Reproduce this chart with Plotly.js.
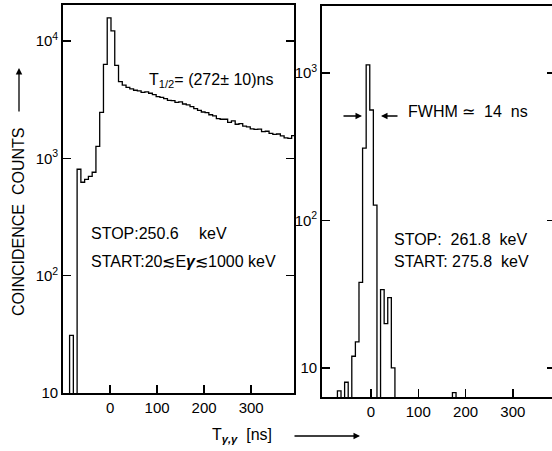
<!DOCTYPE html>
<html>
<head>
<meta charset="utf-8">
<script src="https://cdn.plot.ly/plotly-3.0.1.min.js"></script>
<style>html,body{margin:0;padding:0;background:#fff;}#chart{width:552px;height:451px;}</style>
</head>
<body>
<div id="chart"></div>
<script>
// ---- Left panel: STOP 250.6 keV, time spectrum (bin edges in ns, counts per bin)
const leftEdges = [-86,-78,-70,-62,-54,-46,-38,-30,-22,-14,-6,2,10,18,26,34,42,50,58,66,74,82,90,98,106,114,122,130,138,146,154,162,170,178,186,194,202,210,218,226,234,242,250,258,266,274,282,290,298,306,314,322,330,338,346,354,362,370,378,386,394];
const leftCounts = [31,0,806,625,660,700,760,1265,2460,6300,15700,12200,6200,4500,4200,4020,3900,3800,3750,3650,3680,3580,3480,3350,3300,3220,3120,3100,3000,3020,2900,2850,2750,2650,2560,2480,2450,2350,2300,2180,2150,2150,2020,2080,1950,1970,1880,1850,1780,1760,1770,1690,1700,1630,1600,1610,1550,1490,1480,1560];

// ---- Right panel: STOP 261.8 keV / START 275.8 keV (prompt curve)
const rightEdges = [-71,-63.4,-55.8,-48.2,-40.6,-33,-25.4,-17.8,-10.2,-2.6,5,12.6,20.2,27.8,35.4,43,50.6,172.2,179.8];
const rightCounts = [7,0,8,0,12,15,38,309,1133,561,127,0,34,20,30,10,0,6.8];

const xTickVals = [0,100,200,300];
const xTickText = ['0','100','200','300'];
const leftYTickVals = [10,100,1000,10000];
const leftYTickText = ['10','10<sup>2</sup>','10<sup>3</sup>','10<sup>4</sup>'];
const rightYTickVals = [10,100,1000];
const rightYTickText = ['10','10<sup>2</sup>','10<sup>3</sup>'];

const FLOOR = 0.01; // empty bins drawn below the axis floor

function stepXY(edges, counts){
  const xs=[edges[0]], ys=[FLOOR];
  for(let i=0;i<counts.length;i++){ xs.push(edges[i]); ys.push(counts[i]>0?counts[i]:FLOOR); }
  xs.push(edges[edges.length-1]); ys.push(counts[counts.length-1]>0?counts[counts.length-1]:FLOOR);
  xs.push(edges[edges.length-1]); ys.push(FLOOR);
  return {xs, ys};
}
const L = stepXY(leftEdges, leftCounts);
const R = stepXY(rightEdges, rightCounts);

const FONT = 'Liberation Sans, Arial, sans-serif';
const W=552, H=451;
const px = v => v/W, py = v => 1 - v/H;

const traces = [
  {x:L.xs, y:L.ys, type:'scatter', mode:'lines', line:{shape:'hv', color:'#000', width:1.3}, xaxis:'x', yaxis:'y', hoverinfo:'skip'},
  {x:R.xs, y:R.ys, type:'scatter', mode:'lines', line:{shape:'hv', color:'#000', width:1.3}, xaxis:'x2', yaxis:'y2', hoverinfo:'skip'},
  // invisible companion so the right-hand tick axis of the right panel is drawn
  {x:[rightEdges[8]], y:[rightCounts[8]], type:'scatter', mode:'markers', marker:{opacity:0, size:1}, xaxis:'x2', yaxis:'y3', hoverinfo:'skip'}
];

const axCommon = {showgrid:false, zeroline:false, ticks:'inside', ticklen:8, tickwidth:1.5, tickcolor:'#000',
  showline:true, linecolor:'#000', linewidth:1.8, tickfont:{family:FONT, size:15, color:'#000'}};

const layout = {
  width:W, height:H, margin:{l:0,r:0,t:0,b:0}, paper_bgcolor:'#fff', plot_bgcolor:'#fff', showlegend:false,
  xaxis: Object.assign({}, axCommon, {domain:[px(63), px(294)], range:[-100,391], tickvals:xTickVals, ticktext:xTickText, mirror:true, anchor:'y'}),
  yaxis: Object.assign({}, axCommon, {domain:[py(393), py(5)], type:'log', range:[1,4.306], tickvals:leftYTickVals, ticktext:leftYTickText, mirror:'ticks', anchor:'x'}),
  xaxis2: Object.assign({}, axCommon, {domain:[px(322), 1], range:[-103.6,382.7], tickvals:xTickVals, ticktext:xTickText, mirror:true, anchor:'y2'}),
  yaxis2: Object.assign({}, axCommon, {domain:[py(397), py(6)], type:'log', range:[0.803,3.454], tickvals:rightYTickVals, ticktext:rightYTickText, mirror:false, anchor:'x2'}),
  yaxis3: Object.assign({}, axCommon, {type:'log', range:[0.803,3.454], tickvals:rightYTickVals, ticktext:['','',''], showticklabels:false, showline:false, ticklen:5, overlaying:'y2', side:'right', anchor:'x2'}),
  annotations: [
    {xref:'paper', yref:'paper', x:px(147), y:py(81), xanchor:'left', yanchor:'middle', showarrow:false, text:'T<sub>1/2</sub>= (272± 10)ns', font:{family:FONT, size:16, color:'#000'}},
    {xref:'paper', yref:'paper', x:px(89), y:py(234), xanchor:'left', yanchor:'middle', showarrow:false, text:'STOP:250.6', font:{family:FONT, size:16, color:'#000'}},
    {xref:'paper', yref:'paper', x:px(197), y:py(234), xanchor:'left', yanchor:'middle', showarrow:false, text:'keV', font:{family:FONT, size:16, color:'#000'}},
    {xref:'paper', yref:'paper', x:px(89), y:py(261), xanchor:'left', yanchor:'middle', showarrow:false, text:'START:20≲E<b><i>γ</i></b>≲1000 keV', font:{family:FONT, size:16, color:'#000'}},
    {xref:'paper', yref:'paper', x:px(406), y:py(112), xanchor:'left', yanchor:'middle', showarrow:false, text:'FWHM ≃  14  ns', font:{family:FONT, size:16, color:'#000'}},
    {xref:'paper', yref:'paper', x:px(362), y:py(116), ax:-20, ay:0, showarrow:true, arrowhead:2, arrowsize:1, arrowwidth:1.3, arrowcolor:'#000', text:''},
    {xref:'paper', yref:'paper', x:px(381), y:py(116), ax:18, ay:0, showarrow:true, arrowhead:2, arrowsize:1, arrowwidth:1.3, arrowcolor:'#000', text:''},
    {xref:'paper', yref:'paper', x:px(392), y:py(239), xanchor:'left', yanchor:'middle', showarrow:false, text:'STOP:\u00a0\u00a0261.8\u00a0\u00a0keV', font:{family:FONT, size:16, color:'#000'}},
    {xref:'paper', yref:'paper', x:px(392), y:py(261), xanchor:'left', yanchor:'middle', showarrow:false, text:'START:\u00a0275.8\u00a0\u00a0keV', font:{family:FONT, size:16, color:'#000'}},
    {xref:'paper', yref:'paper', x:px(19), y:py(222), xanchor:'center', yanchor:'middle', showarrow:false, textangle:-90, text:'COINCIDENCE\u00a0\u00a0COUNTS', font:{family:FONT, size:16, color:'#000'}},
    {xref:'paper', yref:'paper', x:px(19), y:py(68), ax:0, ay:45, showarrow:true, arrowhead:2, arrowsize:1, arrowwidth:1.3, arrowcolor:'#000', text:''},
    {xref:'paper', yref:'paper', x:px(210), y:py(435), xanchor:'left', yanchor:'middle', showarrow:false, text:'T<sub><b><i>γ,γ</i></b></sub>\u00a0\u00a0[ns]', font:{family:FONT, size:16, color:'#000'}},
    {xref:'paper', yref:'paper', x:px(360), y:py(436), ax:-67, ay:0, showarrow:true, arrowhead:2, arrowsize:1, arrowwidth:1.3, arrowcolor:'#000', text:''}
  ]
};

Plotly.newPlot('chart', traces, layout, {staticPlot:true, displayModeBar:false});
</script>
</body>
</html>
